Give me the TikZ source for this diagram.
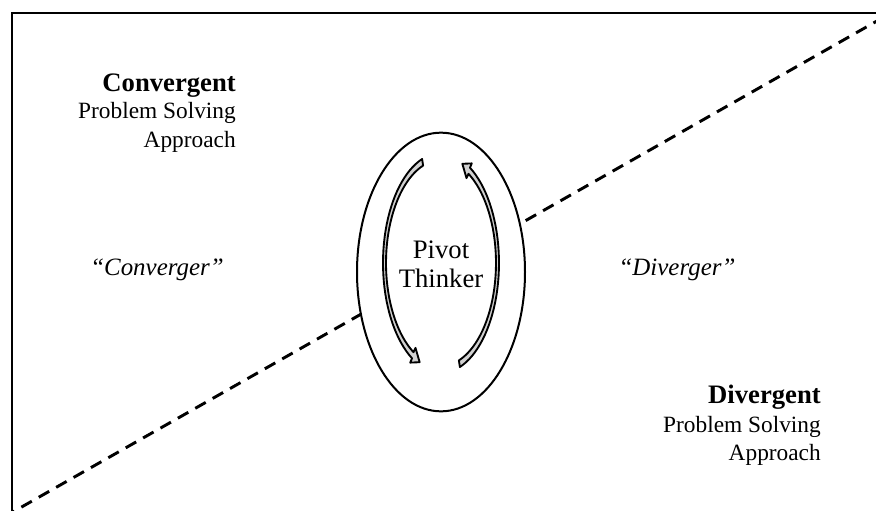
\documentclass[tikz,border=0pt]{standalone}
\usepackage{fontspec}
\setmainfont{Liberation Serif}
\usetikzlibrary{shapes.geometric}

\tikzset{
  frameline/.style={line width=2pt},
  divideline/.style={line width=2.2pt, dash pattern=on 9pt off 6pt},
  pivotring/.style={ellipse, draw, line width=1.5pt, fill=white,
    minimum width=126pt, minimum height=209pt, inner sep=0pt},
  cyclearrow/.style={draw, line width=1.4pt, fill=black!18, line join=round},
  headtext/.style={font=\fontsize{20}{24}\selectfont\bfseries, anchor=base east, inner sep=0pt},
  subtext/.style={font=\fontsize{17.5}{21}\selectfont, anchor=base east, inner sep=0pt},
  roletext/.style={font=\fontsize{18.7}{22}\selectfont\itshape, anchor=base, inner sep=0pt},
  pivottext/.style={font=\fontsize{20}{23}\selectfont, anchor=base, inner sep=0pt}
}

% one curved block arrow of the cycle around the pivot label
\newcommand\ringarrow{%
  \path[cyclearrow]
    plot[domain=251:120,samples=40] ({441+58*cos(\x)},{263+110*sin(\x)})
    -- ({441+61.5*cos(120)},{263+115*sin(120)})
    -- ({441+57*cos(112)},{263+107*sin(112)})
    -- ({441+51*cos(120)},{263+98*sin(120)})
    -- plot[domain=120:251,samples=40] ({441+55*cos(\x)},{263+103*sin(\x)})
    -- cycle;}

\begin{document}
\begin{tikzpicture}[x=0.75pt,y=-0.75pt]
  \useasboundingbox (0,0) rectangle (876,511);

  \coordinate (dl) at (4,517);
  \coordinate (dr) at (884,17);

  \begin{scope}
    \clip (0,0) rectangle (876,511);
    \draw[frameline] (12,13) rectangle (900,540);
    \draw[divideline] (dl) -- (dr);
  \end{scope}

  % central ellipse hides the dividing line
  \node[pivotring] (pivot) at (441,272) {};

  % the two arrows of the cycle
  \ringarrow
  \begin{scope}[rotate around={180:(441,263)}]
    \ringarrow
  \end{scope}

  \node[pivottext] (pivotA) at (441,258) {Pivot};
  \node[pivottext] (pivotB) at (441,287) {Thinker};

  % upper-left region
  \node[headtext] (convA) at (236,91) {Convergent};
  \node[subtext]  (convB) at (236,118) {Problem Solving};
  \node[subtext]  (convC) at (236,147) {Approach};
  \node[roletext] (converger) at (157,275) {``Converger''};

  % lower-right region
  \node[headtext] (divA) at (821,403) {Divergent};
  \node[subtext]  (divB) at (821,432) {Problem Solving};
  \node[subtext]  (divC) at (821,460) {Approach};
  \node[roletext] (diverger) at (677,275) {``Diverger''};
\end{tikzpicture}
\end{document}
